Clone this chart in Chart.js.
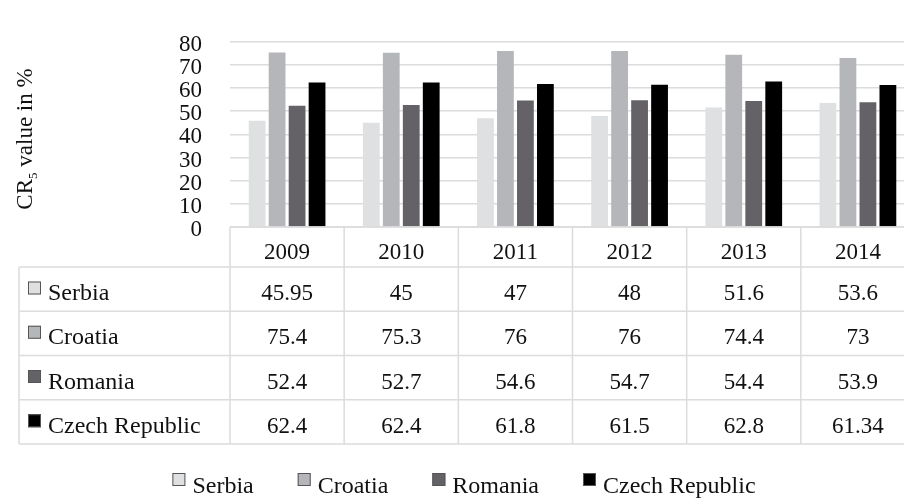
<!DOCTYPE html>
<html>
<head>
<meta charset="utf-8">
<script src="https://cdn.jsdelivr.net/npm/chart.js@4.4.1/dist/chart.umd.min.js"></script>
<style>
  html, body { margin: 0; padding: 0; background: #fff; overflow: hidden; }
  #wrap { width: 916px; height: 498px; }
</style>
</head>
<body>
<div id="wrap"><canvas id="chart"></canvas></div>
<script>
const years = ['2009', '2010', '2011', '2012', '2013', '2014'];
const countries = ['Serbia', 'Croatia', 'Romania', 'Czech Republic'];
const serbia = [45.95, 45, 47, 48, 51.6, 53.6];
const croatia = [75.4, 75.3, 76, 76, 74.4, 73];
const romania = [52.4, 52.7, 54.6, 54.7, 54.4, 53.9];
const czech = [62.4, 62.4, 61.8, 61.5, 62.8, 61.34];
const colors = ['#dfe0e2', '#b5b6ba', '#646266', '#000000'];
const yTicks = [0, 10, 20, 30, 40, 50, 60, 70, 80];

const FONT = "'Liberation Serif', 'DejaVu Serif', serif";
const FS = 23;
const FS_LABEL = 24;
const gridColor = '#dcdcdc';

const seriesValues = [serbia, croatia, romania, czech];

// table + y title + legend, drawn after the bars
const tablePlugin = {
    id: 'dataTable',
    afterDraw(chart) {
        const c = chart.ctx;
        const area = chart.chartArea;
        const xs = chart.scales.x;
        const colW = (area.right - area.left) / years.length;
        const headTop = area.bottom;
        const headBottom = headTop + 40;
        const rowH = 44.25;
        const tableLeft = 19;
        const tableBottom = headBottom + rowH * countries.length;

        c.save();
        c.strokeStyle = gridColor;
        c.lineWidth = 1.5;
        c.beginPath();
        // vertical lines
        for (let i = 0; i <= years.length; i++) {
            const x = area.left + colW * i;
            c.moveTo(x, headTop);
            c.lineTo(x, tableBottom);
        }
        c.moveTo(tableLeft, headBottom);
        c.lineTo(tableLeft, tableBottom);
        // horizontal lines
        c.moveTo(area.left, headTop);
        c.lineTo(area.right, headTop);
        for (let r = 0; r <= countries.length; r++) {
            const y = headBottom + rowH * r;
            c.moveTo(tableLeft, y);
            c.lineTo(area.right, y);
        }
        c.stroke();

        c.fillStyle = '#111';
        c.textBaseline = 'alphabetic';
        c.font = FS + 'px ' + FONT;
        c.textAlign = 'center';
        years.forEach((yr, i) => {
            c.fillText(yr, xs.getPixelForValue(i), headTop + 32);
        });
        countries.forEach((name, r) => {
            const top = headBottom + rowH * r;
            c.font = FS + 'px ' + FONT;
            c.textAlign = 'center';
            seriesValues[r].forEach((v, i) => {
                c.fillText(String(v), xs.getPixelForValue(i), top + 33);
            });
            c.fillStyle = colors[r];
            c.fillRect(28, top + 14.5, 13, 13);
            c.strokeStyle = '#555';
            c.lineWidth = 1;
            c.strokeRect(28.5, top + 15, 12, 12);
            c.fillStyle = '#111';
            c.font = FS_LABEL + 'px ' + FONT;
            c.textAlign = 'left';
            c.fillText(name, 48, top + 33);
        });

        // y axis title with subscript
        const cy = 139, cx = 32;
        c.save();
        c.translate(cx, cy);
        c.rotate(-Math.PI / 2);
        c.textAlign = 'left';
        c.font = FS + 'px ' + FONT;
        const wCR = c.measureText('CR').width;
        const wRest = c.measureText(' value in %').width;
        c.font = '13px ' + FONT;
        const wSub = c.measureText('5').width;
        let x0 = -(wCR + wSub + wRest) / 2;
        c.font = FS + 'px ' + FONT;
        c.fillText('CR', x0, 0);
        c.font = '13px ' + FONT;
        c.fillText('5', x0 + wCR, 5);
        c.font = FS + 'px ' + FONT;
        c.fillText(' value in %', x0 + wCR + wSub, 0);
        c.restore();

        // legend
        c.font = FS_LABEL + 'px ' + FONT;
        c.textAlign = 'left';
        const box = 13, gapBox = 7, gapItem = 44;
        let total = 0;
        const widths = countries.map((n) => c.measureText(n).width);
        widths.forEach((w) => (total += box + gapBox + w));
        total += gapItem * (countries.length - 1);
        let lx = 464 - total / 2;
        const ly = 493;
        countries.forEach((n, i) => {
            c.fillStyle = colors[i];
            c.fillRect(lx, ly - 20, box, box);
            c.strokeStyle = '#555';
            c.lineWidth = 1;
            c.strokeRect(lx + 0.5, ly - 19.5, box - 1, box - 1);
            c.fillStyle = '#111';
            c.fillText(n, lx + box + gapBox, ly);
            lx += box + gapBox + widths[i] + gapItem;
        });
        c.restore();
    },
};

const ctx = document.getElementById('chart');

new Chart(ctx, {
    type: 'bar',
    data: {
        labels: years,
        datasets: countries.map((name, i) => ({
            label: name,
            data: seriesValues[i],
            backgroundColor: colors[i],
            borderWidth: 0,
            categoryPercentage: 0.7,
            barPercentage: 0.84,
        })),
    },
    options: {
        responsive: true,
        maintainAspectRatio: false,
        animation: false,
        layout: { padding: { left: 0, right: 1, top: 22, bottom: 271 } },
        plugins: {
            legend: { display: false },
            tooltip: { enabled: false },
        },
        scales: {
            x: { display: false },
            y: {
                min: 0,
                max: 80,
                afterBuildTicks: (scale) => {
                    scale.ticks = yTicks.map((v) => ({ value: v }));
                },
                afterFit: (scale) => {
                    scale.width = 230;
                },
                border: { display: false },
                grid: { color: gridColor, lineWidth: 1.5, drawTicks: false },
                ticks: {
                    autoSkip: false,
                    padding: 28,
                    labelOffset: 3,
                    color: '#111',
                    font: { family: FONT, size: FS },
                },
            },
        },
    },
    plugins: [tablePlugin],
});
</script>
</body>
</html>
